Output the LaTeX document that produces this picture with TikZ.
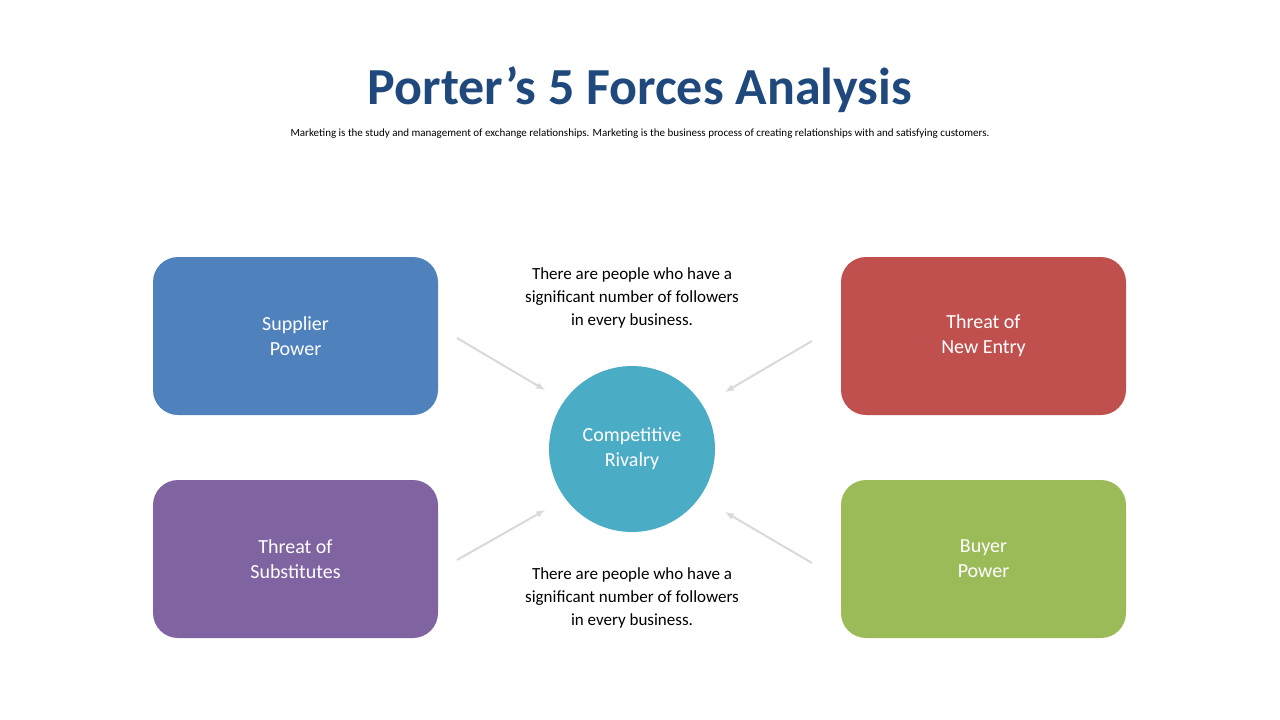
\documentclass[tikz,border=0pt]{standalone}
\usepackage{fontspec}
\setmainfont{Carlito}
\definecolor{titleblue}{HTML}{1F497D}
\definecolor{supblue}{HTML}{4F81BD}
\definecolor{entryred}{HTML}{C0504D}
\definecolor{subpurple}{HTML}{8064A2}
\definecolor{buygreen}{HTML}{9BBB59}
\definecolor{rivcyan}{HTML}{4BACC6}
\tikzset{
  force/.style={rectangle, rounded corners=25pt, minimum width=285pt, minimum height=158pt,
    text=white, align=center, font=\fontsize{20}{25}\selectfont},
  note/.style={align=center, font=\fontsize{17}{23}\selectfont},
  push/.style={-latex, draw=black!15, line width=2pt}
}
\begin{document}
\begin{tikzpicture}[x=1pt,y=-1pt]
  \useasboundingbox (0,0) rectangle (1280,720);
  \node[font=\fontsize{52}{60}\selectfont\bfseries, text=titleblue](T) at (640,90) {Porter’s 5 Forces Analysis};
  \node[font=\fontsize{11}{13}\selectfont](ST) at (640,134) {Marketing is the study and management of exchange relationships. Marketing is the business process of creating relationships with and satisfying customers.};

  \node[force, fill=supblue](SP) at (295.5,336) {Supplier\\Power};
  \node[force, fill=entryred](NE) at (983.5,336) {Threat of\\New Entry};
  \node[force, fill=subpurple](TS) at (295.5,559) {Threat of\\Substitutes};
  \node[force, fill=buygreen](BP) at (983.5,559) {Buyer\\Power};
  \node[circle, fill=rivcyan, minimum size=166pt, text=white, align=center,
    font=\fontsize{20}{25}\selectfont](CR) at (632,449) {Competitive\\Rivalry};

  \node[note](N1) at (632,298) {There are people who have a\\significant number of followers\\in every business.};
  \node[note](N2) at (632,598) {There are people who have a\\significant number of followers\\in every business.};

  \coordinate (a1) at (457,338); \coordinate (b1) at (545,390);
  \coordinate (a2) at (812,341); \coordinate (b2) at (725,392);
  \coordinate (a3) at (457,560); \coordinate (b3) at (545,510);
  \coordinate (a4) at (812,563); \coordinate (b4) at (725,512);
  \foreach \i in {1,...,4} \draw[push] (a\i) -- (b\i);
\end{tikzpicture}
\end{document}
